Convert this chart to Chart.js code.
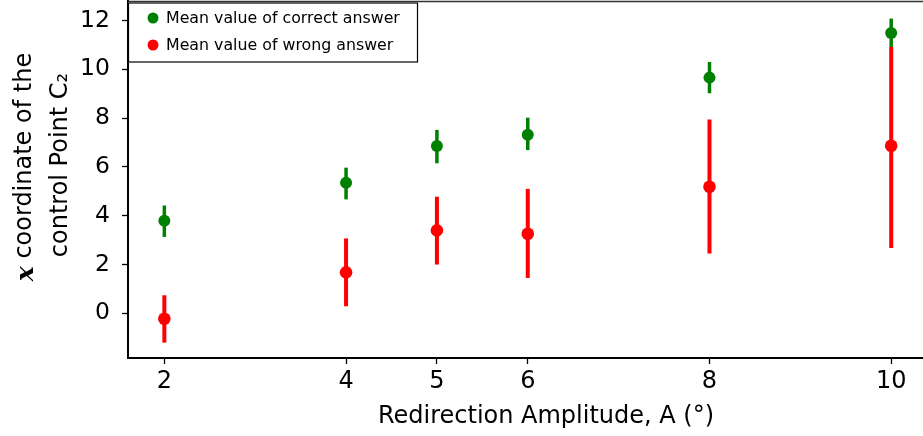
<!DOCTYPE html>
<html>
<head>
<meta charset="utf-8">
<script src="https://cdn.jsdelivr.net/npm/chart.js@4"></script>
<style>
  html, body { margin: 0; padding: 0; background: #fff; }
  #wrap { width: 923px; height: 436px; position: relative; }
</style>
</head>
<body>
<div id="wrap"><canvas id="c"></canvas></div>
<script>
const amplitudes = [2, 4, 5, 6, 8, 10];
const xTickValues = [2, 4, 5, 6, 8, 10];
const yTickValues = [0, 2, 4, 6, 8, 10, 12];

const correctMean = [3.79, 5.35, 6.86, 7.32, 9.66, 11.49];
const correctLow  = [3.13, 4.67, 6.15, 6.69, 9.02, 10.90];
const correctHigh = [4.42, 5.97, 7.52, 8.02, 10.30, 12.08];

const wrongMean = [-0.22, 1.68, 3.40, 3.26, 5.19, 6.87];
const wrongLow  = [-1.20, 0.29, 2.00, 1.45, 2.45, 2.68];
const wrongHigh = [0.74, 3.07, 4.78, 5.10, 7.94, 10.92];

const legendLabels = ['Mean value of correct answer', 'Mean value of wrong answer'];
const xTitle = 'Redirection Amplitude, A (°)';
const yTitleLine1 = ' coordinate of the';
const yTitleLine2 = 'control Point C\u2082';

const GREEN = '#008000';
const RED = '#ff0000';

function pts(xs, ys) { return xs.map((x, i) => ({ x: x, y: ys[i] })); }

const errorSeries = [
  { low: correctLow, high: correctHigh, color: GREEN, width: 3.5 },
  { low: wrongLow, high: wrongHigh, color: RED, width: 4 }
];

const errorBarPlugin = {
  id: 'errorBars',
  beforeDatasetsDraw(chart) {
    const ctx = chart.ctx;
    const xs = chart.scales.x, ys = chart.scales.y;
    const a = chart.chartArea;
    ctx.save();
    ctx.beginPath();
    ctx.rect(a.left, a.top, a.right - a.left, a.bottom - a.top);
    ctx.clip();
    errorSeries.forEach(s => {
      ctx.strokeStyle = s.color;
      ctx.lineWidth = s.width;
      ctx.lineCap = 'butt';
      amplitudes.forEach((xv, i) => {
        const px = xs.getPixelForValue(xv);
        ctx.beginPath();
        ctx.moveTo(px, ys.getPixelForValue(s.low[i]));
        ctx.lineTo(px, ys.getPixelForValue(s.high[i]));
        ctx.stroke();
      });
    });
    ctx.restore();
  }
};

const decorPlugin = {
  id: 'decor',
  afterDraw(chart) {
    const ctx = chart.ctx;
    const a = chart.chartArea;
    ctx.save();
    // top spine
    ctx.strokeStyle = '#333';
    ctx.lineWidth = 1.5;
    ctx.beginPath();
    ctx.moveTo(a.left, a.top + 0.5);
    ctx.lineTo(a.right, a.top + 0.5);
    ctx.stroke();

    // legend box
    const bx = a.left, by = a.top + 1.5, bw = 290, bh = 60;
    ctx.fillStyle = '#fff';
    ctx.fillRect(bx, by, bw, bh);
    ctx.strokeStyle = '#000';
    ctx.lineWidth = 1.2;
    ctx.strokeRect(bx + 0.5, by + 0.5, bw - 1, bh - 1);
    const colors = [GREEN, RED];
    ctx.font = '15.8px "DejaVu Sans"';
    ctx.textBaseline = 'middle';
    ctx.textAlign = 'left';
    legendLabels.forEach((lab, i) => {
      const cy = by + 15.5 + i * 27;
      ctx.fillStyle = colors[i];
      ctx.beginPath();
      ctx.arc(bx + 25, cy, 5.5, 0, Math.PI * 2);
      ctx.fill();
      ctx.fillStyle = '#000';
      ctx.fillText(lab, bx + 38, cy + 0.5);
    });

    // x-axis title (centred on the full axes, which extend past the crop)
    ctx.fillStyle = '#000';
    ctx.font = '24px "DejaVu Sans"';
    ctx.textAlign = 'center';
    ctx.textBaseline = 'middle';
    ctx.fillText(xTitle, 546, 417);

    // y-axis title (two lines, rotated)
    const drawLine1 = (cx, cy) => {
      ctx.save();
      ctx.translate(cx, cy);
      ctx.rotate(-Math.PI / 2);
      ctx.font = 'bold italic 25px "DejaVu Serif"';
      const wx = ctx.measureText('x').width;
      ctx.font = '24px "DejaVu Sans"';
      const wr = ctx.measureText(yTitleLine1).width;
      const total = wx + wr;
      ctx.textAlign = 'left';
      ctx.font = 'bold italic 25px "DejaVu Serif"';
      ctx.fillText('x', -total / 2, 1);
      ctx.font = '24px "DejaVu Sans"';
      ctx.fillText(yTitleLine1, -total / 2 + wx, 0);
      ctx.restore();
    };
    drawLine1(25, 167);
    ctx.save();
    ctx.translate(61, 165);
    ctx.rotate(-Math.PI / 2);
    ctx.font = '24px "DejaVu Sans"';
    ctx.textAlign = 'center';
    ctx.fillText(yTitleLine2, 0, 0);
    ctx.restore();
    ctx.restore();
  }
};

new Chart(document.getElementById('c'), {
  type: 'scatter',
  data: {
    datasets: [
      { label: legendLabels[0], data: pts(amplitudes, correctMean), backgroundColor: GREEN, borderColor: GREEN, pointRadius: 6, pointHoverRadius: 6, borderWidth: 0 },
      { label: legendLabels[1], data: pts(amplitudes, wrongMean), backgroundColor: RED, borderColor: RED, pointRadius: 6.3, pointHoverRadius: 6.3, borderWidth: 0 }
    ]
  },
  options: {
    responsive: true,
    maintainAspectRatio: false,
    animation: false,
    devicePixelRatio: 1,
    layout: { autoPadding: false, padding: { top: 1, right: 0, left: 0, bottom: 0 } },
    plugins: { legend: { display: false }, tooltip: { enabled: false } },
    scales: {
      x: {
        type: 'linear',
        min: 1.6,
        max: 10.35,
        afterBuildTicks(scale) { scale.ticks = xTickValues.map(v => ({ value: v })); },
        afterFit(scale) { scale.height = 78; scale.paddingLeft = 0; scale.paddingRight = 0; },
        grid: { drawOnChartArea: false, drawTicks: true, tickLength: 6, tickColor: '#000', tickWidth: 1.3 },
        border: { color: '#000', width: 2 },
        ticks: { color: '#000', font: { family: 'DejaVu Sans', size: 24 }, padding: 3, maxRotation: 0, autoSkip: false },
        title: { display: false }
      },
      y: {
        type: 'linear',
        min: -1.83,
        max: 12.8,
        afterBuildTicks(scale) { scale.ticks = yTickValues.map(v => ({ value: v })); },
        afterFit(scale) { scale.width = 128; scale.paddingTop = 0; scale.paddingBottom = 0; },
        grid: { drawOnChartArea: false, drawTicks: true, tickLength: 6, tickColor: '#000', tickWidth: 1.3 },
        border: { color: '#000', width: 2 },
        ticks: { color: '#000', font: { family: 'DejaVu Sans', size: 23.5 }, padding: 12, autoSkip: false }
      }
    }
  },
  plugins: [errorBarPlugin, decorPlugin]
});
</script>
</body>
</html>
